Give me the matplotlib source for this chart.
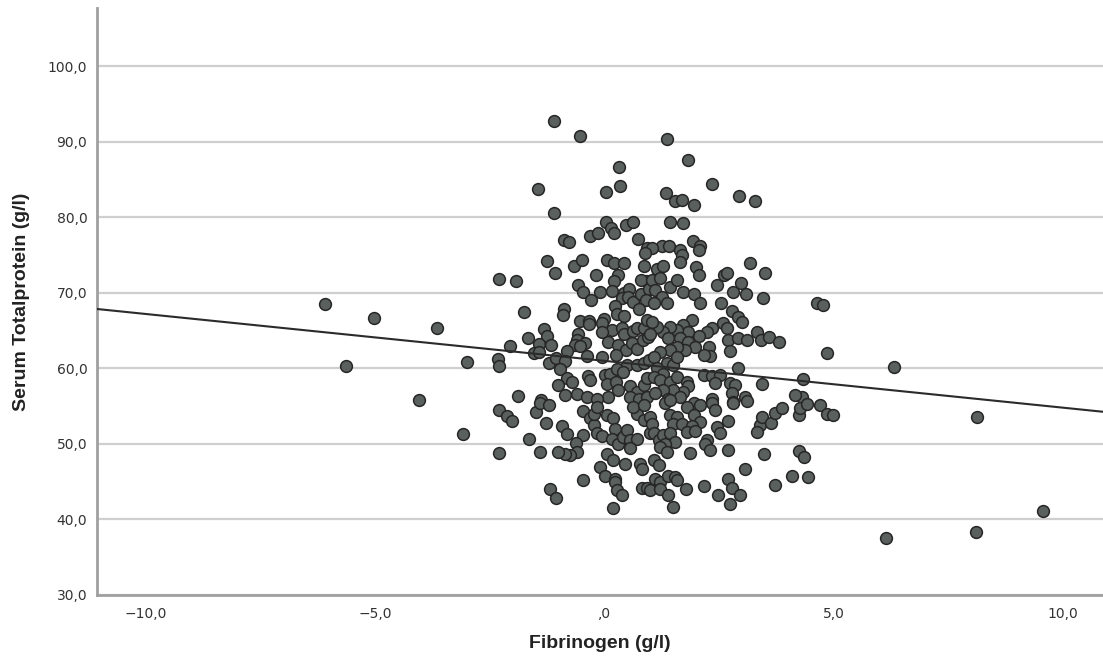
import matplotlib
matplotlib.use("Agg")
import matplotlib.pyplot as plt

# ---------------- data ----------------
# isolated points left / right of the main cloud
fib_out = [-6.09, -5.02, -3.64, -5.63, -2.99, -4.03, -3.08,
           4.64, 4.78, 4.86, 6.32, 4.34, 8.14, 9.57, 6.15, 8.11, 4.32]
tp_out = [68.5, 66.7, 65.4, 60.3, 60.8, 55.8, 51.3,
          68.7, 68.4, 62.05, 60.2, 58.6, 53.5, 41.1, 37.5, 38.3, 56.2]

# top of the cloud, left part
fib_top_l = [-1.09, -0.52, 0.33, -1.44, 0.04, 0.35, -1.09, 0.04, 0.15, 0.22,
             0.48, 0.63, 0.74, -0.87, -0.76, -0.31, -0.13, 0.94]
tp_top_l = [92.7, 90.75, 86.65, 83.7, 83.3, 84.1, 80.55, 79.4, 78.6, 77.9,
            79.0, 79.4, 77.1, 77.0, 76.7, 77.5, 77.9, 75.9]

# top of the cloud, right part
fib_top_r = [1.37, 1.83, 2.36, 1.35, 1.55, 1.70, 1.96, 2.94, 3.29, 1.44,
             1.72, 1.94, 2.09, 1.26, 1.42, 1.66, 1.05]
tp_top_r = [90.35, 87.6, 84.4, 83.2, 82.15, 82.3, 81.6, 82.8, 82.15, 79.4,
            79.2, 76.85, 76.2, 76.2, 76.2, 75.65, 75.9]

# middle of the cloud, left part
fib_mid_l = [-1.25, -1.08, -0.65, -0.49, 0.07, 0.22, 0.43, 0.90, 0.88, -2.30,
             -1.93, -0.17, -0.58, -0.45, 0.31, 0.22, -0.10, 0.17, 0.43, 0.55,
             -0.28, 0.40, 0.52, 0.63, 0.80, 0.92, 0.81, 0.97, 0.92, 0.75,
             0.23, 0.28, 0.44, -1.74, -0.87, -0.89, -0.52, -0.33, -0.32, -0.01,
             -0.05, 0.17, -0.05, 0.39, 0.44, 0.63, 0.71, 0.86, 0.94, -1.32,
             -1.24, -1.67, -1.41, -1.16, -0.58, -0.60, -0.63, -0.41, -2.05, -1.54,
             -1.43, -0.80, -0.52, -0.38, -0.04, 0.09, 0.30, 0.47, 0.60, 0.71,
             0.85, 0.95, 0.26, -2.31, -2.30, -1.21, -1.05, -0.86, -0.96, 0.49,
             0.71, 0.86, 0.97, 0.01, 0.12, 0.28, 0.42, -0.80, -0.70, -0.36,
             -0.31, -1.00, 0.06, 0.26, 0.31, 0.57, 0.71, 0.86, 0.93, 0.09,
             0.57, -1.88, -1.38, -0.85, -0.60, -0.38, -0.16, 0.75, 0.93]
tp_mid_l = [74.2, 72.6, 73.6, 74.4, 74.3, 73.9, 73.9, 75.3, 73.5, 71.8,
            71.5, 72.3, 71.1, 70.1, 72.35, 71.5, 70.1, 70.3, 70.0, 70.5,
            69.0, 69.3, 69.5, 68.8, 69.8, 71.5, 71.7, 70.45, 69.1, 67.9,
            68.2, 67.2, 66.9, 67.5, 67.9, 67.05, 66.3, 66.3, 65.9, 66.5,
            66.0, 65.1, 64.75, 65.3, 64.5, 64.9, 65.3, 65.4, 66.4, 65.2,
            64.3, 64.0, 63.2, 63.1, 64.5, 63.7, 63.1, 63.4, 62.9, 62.0,
            62.2, 62.3, 62.9, 61.7, 61.5, 63.5, 63.1, 62.4, 63.3, 62.6,
            63.7, 64.2, 61.75, 61.3, 60.3, 60.65, 61.4, 61.0, 59.85, 60.4,
            60.4, 60.65, 61.1, 59.1, 59.3, 59.85, 59.55, 58.7, 58.2, 59.0,
            58.4, 57.8, 57.9, 58.2, 57.1, 57.6, 56.9, 57.8, 58.7, 56.2,
            56.2, 56.3, 55.8, 56.5, 56.6, 56.2, 56.0, 56.0, 56.2]

# middle of the cloud, right part
fib_mid_r = [1.69, 1.66, 2.06, 1.15, 1.29, 1.04, 1.22, 1.11, 1.44, 1.58,
             1.73, 1.95, 2.09, 1.26, 1.37, 1.08, 2.01, 2.08, 2.46, 2.62,
             2.68, 2.98, 2.82, 3.10, 3.18, 3.51, 3.46, 2.54, 2.78, 2.93,
             3.00, 2.60, 2.68, 2.35, 2.24, 2.06, 1.91, 1.73, 1.84, 1.58,
             1.44, 1.29, 1.15, 1.04, 1.00, 1.40, 1.66, 1.84, 1.98, 1.77,
             1.58, 1.44, 1.22, 1.08, 2.71, 2.91, 3.11, 3.33, 3.42, 3.60,
             3.81, 2.75, 2.28, 2.31, 2.17, 2.93, 2.17, 2.35, 2.53, 2.42,
             2.75, 2.86, 3.44, 4.17, 1.37, 1.51, 1.58, 1.15, 1.29, 1.08,
             1.22, 1.44, 1.58, 1.80, 1.84, 1.73, 1.51, 1.29, 1.11, 1.40,
             1.66, 2.78, 3.08, 2.82, 2.35]
tp_mid_r = [75.0, 74.1, 75.65, 73.2, 73.5, 71.7, 71.9, 70.4, 70.8, 71.7,
            70.1, 69.9, 68.6, 69.5, 68.6, 68.6, 73.45, 72.35, 71.0, 72.35,
            72.6, 71.3, 70.1, 69.9, 74.0, 72.65, 69.3, 68.7, 67.6, 66.8,
            66.2, 65.95, 65.3, 65.3, 64.85, 64.3, 66.4, 65.7, 64.85, 65.1,
            65.5, 64.85, 65.5, 66.2, 64.6, 63.96, 63.96, 63.5, 62.86, 62.4,
            62.86, 62.4, 62.2, 61.5, 63.7, 63.96, 63.7, 64.75, 63.8, 64.1,
            63.5, 62.3, 62.86, 61.6, 61.75, 60.0, 59.1, 59.0, 59.1, 58.1,
            58.0, 57.8, 57.9, 56.45, 60.65, 60.4, 61.5, 60.0, 59.3, 58.9,
            58.4, 58.2, 58.9, 58.2, 57.6, 56.9, 57.1, 57.1, 56.7, 56.0,
            56.2, 56.7, 56.2, 55.6, 56.0]

# bottom of the cloud, left part
fib_low_l = [-2.30, -2.11, -2.01, -1.49, -1.40, -1.21, -1.26, -0.92, -0.81, -0.47,
             -0.61, -0.60, -0.74, -0.85, -1.00, -1.40, -1.63, -2.29, -0.47, -0.31,
             -0.23, -0.16, -0.05, -0.22, -0.16, 0.06, 0.20, 0.24, 0.17, 0.31,
             0.42, 0.49, 0.57, 0.71, 0.57, 0.71, 0.86, 0.64, 0.86, 0.06,
             0.20, -0.09, 0.02, 0.24, 0.24, 0.28, 0.39, 0.46, 0.79, 0.82,
             0.82, 0.93, -0.47, -1.18, -1.06, 0.20, 1.00, 1.00]
tp_low_l = [54.5, 53.7, 53.05, 54.25, 55.4, 55.1, 52.8, 52.35, 51.3, 51.15,
            50.1, 48.95, 48.5, 48.6, 48.95, 48.95, 50.6, 48.8, 54.4, 53.4,
            52.5, 51.4, 51.0, 54.0, 54.9, 53.8, 53.4, 52.0, 50.7, 50.05,
            50.9, 51.8, 50.5, 50.7, 49.4, 54.0, 53.1, 54.9, 55.1, 48.7,
            47.9, 47.0, 45.7, 45.4, 45.0, 43.9, 43.2, 47.4, 47.4, 46.65,
            44.2, 44.1, 45.2, 44.0, 42.85, 41.45, 53.6, 51.4]

# bottom of the cloud, right part
fib_low_r = [1.33, 1.44, 1.95, 2.09, 2.35, 2.42, 2.82, 3.11, 1.80, 1.44,
             1.58, 1.51, 1.69, 1.95, 2.09, 1.91, 1.80, 1.98, 1.04, 1.08,
             1.19, 1.29, 1.44, 1.55, 1.33, 1.22, 2.24, 2.20, 2.31, 2.46,
             2.53, 2.71, 1.88, 2.71, 3.48, 3.40, 3.33, 3.45, 3.64, 3.73,
             3.88, 4.24, 4.27, 4.42, 4.71, 4.86, 4.99, 4.24, 4.35, 1.37,
             1.08, 1.19, 1.11, 1.22, 1.40, 1.55, 1.58, 1.00, 1.22, 1.40,
             1.79, 2.17, 2.49, 2.71, 2.79, 2.97, 2.75, 3.08, 3.73, 4.09,
             4.45, 1.50]
tp_low_r = [55.35, 55.8, 55.35, 55.1, 55.35, 54.55, 55.35, 55.65, 54.9, 53.8,
            53.6, 52.7, 52.7, 53.8, 52.9, 52.35, 51.6, 51.7, 52.7, 51.4,
            50.5, 51.2, 51.4, 50.3, 50.05, 49.6, 50.5, 50.05, 49.2, 52.25,
            51.4, 53.05, 48.8, 49.2, 48.6, 52.5, 51.6, 53.6, 52.8, 54.15,
            54.7, 53.8, 54.7, 55.25, 55.1, 54.0, 53.8, 49.1, 48.3, 48.95,
            47.9, 47.2, 45.4, 45.0, 45.7, 45.6, 45.2, 43.9, 44.0, 43.2,
            44.0, 44.4, 43.2, 45.3, 44.2, 43.2, 42.0, 46.65, 44.6, 45.7,
            45.6, 41.7]

# fit line
fit_intercept = 61.0
fit_slope = -0.62

x_ticks = [-10, -5, 0, 5, 10]
x_tick_labels = ["\u221210,0", "\u22125,0", ",0", "5,0", "10,0"]
y_ticks = [30, 40, 50, 60, 70, 80, 90, 100]
y_tick_labels = ["30,0", "40,0", "50,0", "60,0", "70,0", "80,0", "90,0", "100,0"]
x_title = "Fibrinogen (g/l)"
y_title = "Serum Totalprotein (g/l)"

groups = [(fib_out, tp_out), (fib_top_l, tp_top_l), (fib_top_r, tp_top_r),
          (fib_mid_l, tp_mid_l), (fib_mid_r, tp_mid_r),
          (fib_low_l, tp_low_l), (fib_low_r, tp_low_r)]
fib, tp = [], []
for gx, gy in groups:
    n = min(len(gx), len(gy))
    fib += gx[:n]
    tp += gy[:n]

# ---------------- figure ----------------
W, H = 1103, 661
fig = plt.figure(figsize=(W / 100, H / 100), dpi=100)
ax = fig.add_axes([97 / W, 1 - 595 / H, 1006 / W, 587 / H])
ax.set_xlim(-11.06, 10.88)
ax.set_ylim(30, 107.7)

ax.yaxis.grid(True, color="#cfcfcf", lw=1.6)
ax.xaxis.grid(False)
ax.set_axisbelow(True)
for s in ("top", "right"):
    ax.spines[s].set_visible(False)
for s in ("left", "bottom"):
    ax.spines[s].set_color("#a0a0a0")
    ax.spines[s].set_linewidth(2.0)

ax.scatter(fib, tp, s=72, c="#59605e", edgecolors="#262626",
           linewidths=1.1, zorder=3)
ax.axline((0, fit_intercept), slope=fit_slope, color="#2b2b2b", lw=1.5, zorder=4)

ax.set_xticks(x_ticks)
ax.set_xticklabels(x_tick_labels)
ax.set_yticks(y_ticks)
ax.set_yticklabels(y_tick_labels)
ax.tick_params(axis="both", length=0, labelsize=10, labelcolor="#333333")
ax.tick_params(axis="y", pad=7)
ax.tick_params(axis="x", pad=9)

ax.set_xlabel(x_title, fontsize=14, fontweight="bold", family="Liberation Sans",
              color="#222222")
ax.set_ylabel(y_title, fontsize=14, fontweight="bold", family="Liberation Sans",
              color="#222222")
ax.xaxis.set_label_coords(0.5, (595 - 643) / 587)
ax.xaxis.label.set_va("center")
ax.yaxis.set_label_coords((22 - 97) / 1006, 0.5)
ax.yaxis.label.set_va("center")

fig.savefig("out.png", dpi=100)
